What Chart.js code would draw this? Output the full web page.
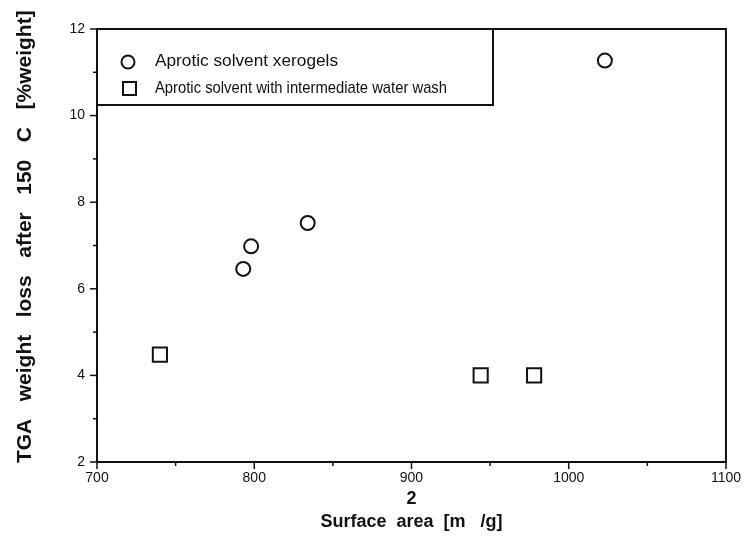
<!DOCTYPE html>
<html>
<head>
<meta charset="utf-8">
<title>TGA weight loss vs surface area</title>
<script src="https://cdn.jsdelivr.net/npm/chart.js@4.4.1/dist/chart.umd.min.js"></script>
<style>
  html, body { margin: 0; padding: 0; background: #fff; }
  #wrap { width: 749px; height: 542px; }
</style>
</head>
<body>
<div id="wrap"><canvas id="chart" width="749" height="542"></canvas></div>
<script>
// data
const xerogelArea = [793, 798, 834, 1023];
const xerogelLoss = [6.46, 6.98, 7.52, 11.27];
const washArea = [740, 944, 978];
const washLoss = [4.48, 4.0, 4.0];
const seriesLabels = ["Aprotic solvent xerogels", "Aprotic solvent with intermediate water wash"];
const xTicks = [700, 800, 900, 1000, 1100];
const yTicks = [2, 4, 6, 8, 10, 12];

const ink = "#111";
const sans = '"Liberation Sans", Arial, sans-serif';
const toPoints = (xs, ys) => xs.map((x, i) => ({ x, y: ys[i] }));

// draw text squeezed to a given width (the scan uses a narrow face)
function fitText(ctx, text, x, y, width) {
  const w = ctx.measureText(text).width;
  ctx.save();
  ctx.translate(x, y);
  ctx.scale(width / w, 1);
  ctx.fillText(text, 0, 0);
  ctx.restore();
}

// frame, outward ticks (major + minor) and the boxed legend
const framePlugin = {
  id: "frame",
  afterDraw(chart) {
    const { ctx, chartArea: a, scales } = chart;
    ctx.save();
    ctx.strokeStyle = ink;
    ctx.lineWidth = 2;
    ctx.strokeRect(a.left, a.top, a.right - a.left, a.bottom - a.top);

    ctx.lineWidth = 1.5;
    scales.x.ticks.forEach((t) => {
      const px = scales.x.getPixelForValue(t.value);
      const len = xTicks.includes(t.value) ? 7 : 4;
      ctx.beginPath();
      ctx.moveTo(px, a.bottom);
      ctx.lineTo(px, a.bottom + len);
      ctx.stroke();
    });
    scales.y.ticks.forEach((t) => {
      const py = scales.y.getPixelForValue(t.value);
      const len = yTicks.includes(t.value) ? 7 : 4;
      ctx.beginPath();
      ctx.moveTo(a.left, py);
      ctx.lineTo(a.left - len, py);
      ctx.stroke();
    });

    // legend box
    const boxRight = 493, boxBottom = 105;
    ctx.lineWidth = 2;
    ctx.beginPath();
    ctx.moveTo(a.left, boxBottom);
    ctx.lineTo(boxRight, boxBottom);
    ctx.lineTo(boxRight, a.top);
    ctx.stroke();

    ctx.beginPath();
    ctx.arc(128, 62, 6.5, 0, Math.PI * 2);
    ctx.stroke();
    ctx.strokeRect(123, 82, 13, 13);

    ctx.fillStyle = ink;
    ctx.textBaseline = "middle";
    ctx.font = "16px " + sans;
    fitText(ctx, seriesLabels[0], 155, 62, 183);
    ctx.font = "17px " + sans;
    fitText(ctx, seriesLabels[1], 155, 88, 292);
    ctx.restore();
  }
};

new Chart(document.getElementById("chart"), {
  type: "scatter",
  data: {
    datasets: [
      {
        label: seriesLabels[0],
        data: toPoints(xerogelArea, xerogelLoss),
        pointStyle: "circle",
        pointRadius: 7,
        borderWidth: 2,
        borderColor: ink,
        backgroundColor: "#fff"
      },
      {
        label: seriesLabels[1],
        data: toPoints(washArea, washLoss),
        pointStyle: "rect",
        pointRadius: 10,
        borderWidth: 2,
        borderColor: ink,
        backgroundColor: "#fff"
      }
    ]
  },
  options: {
    responsive: false,
    animation: false,
    events: [],
    layout: { padding: { top: 29, right: 17, bottom: 0, left: 0 } },
    plugins: { legend: { display: false }, tooltip: { enabled: false } },
    scales: {
      x: {
        type: "linear",
        min: 700,
        max: 1100,
        afterFit: (scale) => { scale.height = 80; },
        grid: { display: false, drawTicks: false },
        border: { display: false },
        ticks: {
          stepSize: 50,
          autoSkip: false,
          maxRotation: 0,
          padding: 8,
          color: ink,
          font: { family: sans, size: 14 },
          callback: (v) => (xTicks.includes(v) ? String(v) : "")
        },
        title: {
          display: true,
          text: ["2", "Surface  area  [m   /g]"],
          color: ink,
          padding: { top: 0, bottom: 8 },
          font: { family: sans, size: 18, weight: "bold", lineHeight: 1.28 }
        }
      },
      y: {
        type: "linear",
        min: 2,
        max: 12,
        afterFit: (scale) => { scale.width = 97; },
        grid: { display: false, drawTicks: false },
        border: { display: false },
        ticks: {
          stepSize: 1,
          autoSkip: false,
          padding: 12,
          color: ink,
          font: { family: sans, size: 14 },
          callback: (v) => (yTicks.includes(v) ? String(v) : "")
        },
        title: {
          display: true,
          text: "   TGA   weight   loss   after   150   C   [%weight]",
          color: ink,
          padding: { top: 13, bottom: 0 },
          font: { family: sans, size: 21, weight: "bold" }
        }
      }
    }
  },
  plugins: [framePlugin]
});
</script>
</body>
</html>
